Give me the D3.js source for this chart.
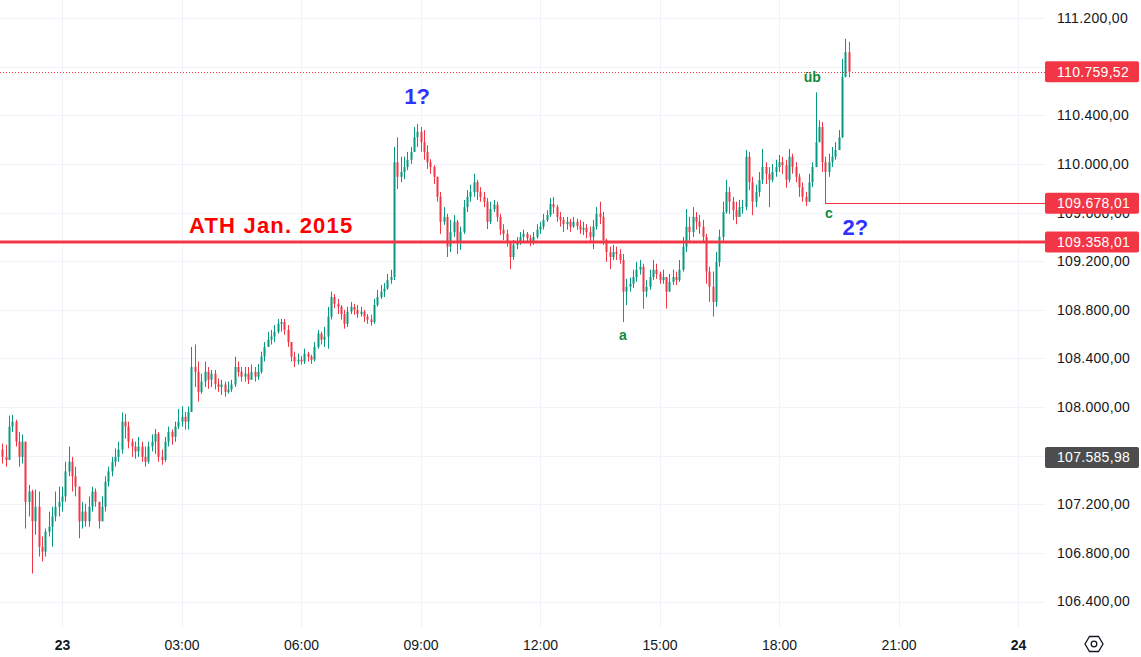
<!DOCTYPE html>
<html><head><meta charset="utf-8">
<script src="https://cdn.jsdelivr.net/npm/d3@7"></script>
<style>html,body{margin:0;padding:0;background:#fff;overflow:hidden}</style>
</head><body><svg id="c" width="1141" height="657"></svg>
<script>
// ---- data (5-minute candles, 22 May 22:30 -> 23 May 19:45 UTC) ----
const startTime = Date.UTC(2025,4,22,22,30);
const stepMinutes = 5;
const firstOpen = 107650;
const closes = [
107590,107565,107840,107880,107715,107590,107715,107220,107305,107060,
107180,106850,106810,106975,107015,107100,107180,107220,107265,107470,
107550,107430,107345,107060,107140,107060,107180,107305,107220,107060,
107180,107385,107470,107550,107590,107650,107880,107840,107715,107675,
107635,107675,107590,107550,107675,107715,107780,107590,107565,107715,
107795,107755,107840,107880,107920,107880,107960,108330,108290,108125,
108210,108290,108225,108275,108190,108165,108185,108125,108145,108185,
108330,108290,108250,108275,108225,108290,108250,108290,108415,108495,
108555,108580,108620,108685,108700,108635,108535,108415,108375,108390,
108375,108440,108415,108390,108495,108605,108555,108580,108745,108905,
108850,108825,108765,108685,108785,108825,108800,108765,108785,108745,
108720,108700,108840,108905,108950,108975,109045,109070,110015,109895,
109935,109975,110035,110100,110220,110265,110180,110100,110015,109975,
109895,109730,109525,109565,109320,109440,109525,109360,109440,109645,
109730,109770,109850,109770,109730,109690,109525,109630,109665,109565,
109460,109425,109360,109235,109335,109360,109400,109425,109390,109360,
109400,109460,109485,109540,109580,109670,109645,109565,109540,109505,
109525,109485,109525,109490,109460,109475,109440,109400,109485,109590,
109565,109375,109275,109235,109275,109260,109210,108950,108990,109015,
109070,109130,109155,108950,108990,109070,109130,109095,109045,109070,
108950,109030,109070,109045,109130,109320,109485,109440,109565,109525,
109485,109400,109115,108990,108865,109195,109400,109605,109770,109690,
109620,109565,109645,109645,110060,109850,109690,109770,109870,109975,
109920,109870,109935,109975,110015,109990,109870,110060,109975,109895,
109810,109730,109690,109850,109975,110180,110305,110015,109935,110015,
110060,110115,110220,110715,110920,110759.52];
const highs = [
107700,107690,107930,107935,107895,107795,107775,107715,107360,107320,
107320,107305,106935,107000,107140,107180,107305,107345,107345,107550,
107675,107590,107510,107345,107220,107205,107265,107345,107330,107220,
107265,107430,107510,107590,107660,107715,107955,107945,107880,107740,
107715,107755,107715,107675,107715,107775,107820,107795,107650,107755,
107840,107815,107880,107985,108005,107960,108005,108495,108515,108375,
108275,108375,108330,108305,108305,108235,108225,108210,108210,108225,
108415,108375,108330,108330,108330,108350,108330,108355,108455,108535,
108620,108635,108675,108725,108725,108725,108675,108535,108455,108440,
108420,108480,108455,108430,108535,108635,108620,108660,108825,108950,
108930,108890,108840,108800,108825,108865,108850,108840,108825,108800,
108765,108760,108890,108965,109005,109020,109095,109130,110140,110220,
110060,110060,110100,110140,110305,110330,110305,110280,110155,110040,
109990,109895,109770,109645,109590,109540,109580,109540,109485,109705,
109785,109830,109920,109870,109810,109770,109720,109690,109705,109690,
109590,109505,109460,109360,109375,109400,109440,109460,109440,109415,
109440,109505,109525,109590,109620,109720,109730,109665,109605,109565,
109565,109550,109565,109550,109540,109525,109505,109485,109540,109645,
109690,109605,109385,109320,109335,109320,109300,109260,109055,109065,
109130,109195,109210,109180,109045,109130,109210,109180,109115,109130,
109070,109095,109130,109115,109210,109400,109630,109565,109645,109605,
109580,109540,109425,109155,109115,109275,109460,109690,109870,109810,
109730,109690,109705,109705,110115,110100,109895,109830,109935,110125,
110015,109975,110000,110035,110075,110060,110035,110125,110085,110015,
109920,109850,109770,109920,110015,110590,110360,110345,110060,110085,
110140,110180,110280,110865,111030,111005];
const lows = [
107535,107510,107565,107795,107675,107510,107535,107000,107100,106630,
106950,106770,106730,106770,106935,106850,107060,107100,107140,107220,
107430,107305,107265,106920,107000,107015,107015,107140,107180,107000,
107060,107140,107345,107430,107510,107550,107615,107740,107660,107590,
107575,107590,107550,107510,107535,107635,107615,107550,107525,107550,
107675,107690,107715,107820,107840,107815,107815,107960,108165,108045,
108110,108165,108150,108165,108145,108125,108100,108085,108110,108125,
108165,108250,108210,108210,108190,108225,108210,108225,108275,108375,
108495,108515,108535,108605,108620,108595,108495,108375,108330,108350,
108350,108355,108375,108355,108375,108480,108515,108495,108480,108720,
108815,108765,108720,108645,108660,108765,108760,108735,108745,108700,
108685,108670,108685,108825,108890,108905,108965,109015,109045,109795,
109850,109875,109950,110000,110100,110140,110100,110035,109960,109920,
109835,109690,109425,109500,109235,109275,109400,109260,109295,109425,
109605,109690,109730,109705,109690,109645,109465,109505,109605,109525,
109415,109375,109320,109135,109210,109300,109335,109360,109360,109325,
109335,109385,109425,109460,109525,109565,109590,109525,109485,109440,
109460,109440,109475,109460,109425,109415,109390,109360,109300,109460,
109505,109335,109195,109135,109210,109210,109180,108700,108840,108950,
108980,109030,109090,108810,108905,108965,109045,109055,109015,109015,
108810,108950,109005,109005,109030,109115,109275,109360,109400,109460,
109425,109360,109015,108865,108745,108825,109155,109360,109590,109590,
109540,109505,109565,109590,109620,109785,109580,109645,109730,109835,
109835,109645,109850,109895,109935,109920,109805,109850,109920,109850,
109730,109690,109655,109690,109810,109975,110180,109935,109678.01,109895,
109975,110035,110140,110215,110740,110715];

const yTicks = [106400,106800,107200,107600,108000,108400,108800,109200,109600,110000,110400,110800,111200];
const xTickHours = [0,3,6,9,12,15,18,21,24];
const xTickLabels = ["23","03:00","06:00","09:00","12:00","15:00","18:00","21:00","24"];
const priceTags = [
  {label:"last", value:110759.52, color:"#f23645"},
  {label:"c", value:109678.01, color:"#f23645"},
  {label:"ath", value:109358.01, color:"#f23645"},
  {label:"prev", value:107585.98, color:"#4d4d4f"}
];
const athValue = 109358.01;
const cLevel = 109678.01;
const cTimeIndex = 248;
const lastPrice = 110759.52;
const waveLabels = [
  {text:"1?", idx:125, value:110490, kind:"major"},
  {text:"2?", idx:257, value:109420, kind:"major"},
  {text:"a", idx:187, value:108550, kind:"minor"},
  {text:"c", idx:249, value:109555, kind:"minor"},
  {text:"üb", idx:244, value:110675, kind:"minor"}
];

// ---- layout ----
const W = 1141, H = 657, plotR = 1045, plotB = 628;
const svg = d3.select("#c");
const day0 = Date.UTC(2025,4,23,0,0);
const x = d3.scaleUtc().domain([new Date(day0), new Date(day0+24*3600e3)]).range([62,1018]);
const y = d3.scaleLinear().domain([106400,111200]).range([601.5,18.2]);
const tOf = i => new Date(startTime + i*stepMinutes*60e3);
const loc = d3.formatLocale({decimal:",",thousands:".",grouping:[3],currency:["","€"]});
const fmt = loc.format(",.2f");
const FONT = "'Liberation Sans', Arial, sans-serif";

svg.append("rect").attr("width",W).attr("height",H).attr("fill","#fff");

// grid
const grid = svg.append("g").attr("stroke","#f0f3fa").attr("stroke-width",1);
yTicks.forEach(v=>{ const yy=Math.round(y(v))+0.5;
  grid.append("line").attr("x1",0).attr("x2",plotR).attr("y1",yy).attr("y2",yy);});
const xTickDates = xTickHours.map(h=>new Date(day0+h*3600e3));
xTickDates.forEach(d=>{ const xx=Math.round(x(d))+0.5;
  grid.append("line").attr("x1",xx).attr("x2",xx).attr("y1",0).attr("y2",plotB);});

// candles
const data = closes.map((c,i)=>{
  const o = i===0 ? firstOpen : closes[i-1];
  return {t:tOf(i), o, c, h:Math.max(highs[i],o,c), l:Math.min(lows[i],o,c)};
});
const cg = svg.append("g");
data.forEach(d=>{
  const xx = Math.round(x(d.t));
  const col = d.c >= d.o ? "#089981" : "#f23645";
  cg.append("line").attr("x1",xx+0.5).attr("x2",xx+0.5).attr("y1",y(d.h)).attr("y2",y(d.l))
    .attr("stroke",col).attr("stroke-width",1);
  const top = Math.min(y(d.o),y(d.c)), bh = Math.max(1,Math.abs(y(d.o)-y(d.c)));
  cg.append("rect").attr("x",xx-0.5).attr("width",2).attr("y",top).attr("height",bh).attr("fill",col);
});

// lines
svg.append("line").attr("x1",0).attr("x2",plotR).attr("y1",Math.round(y(lastPrice))+0.5).attr("y2",Math.round(y(lastPrice))+0.5)
  .attr("stroke","#f23645").attr("stroke-width",1).attr("stroke-dasharray","1,2");
svg.append("line").attr("x1",0).attr("x2",plotR).attr("y1",y(athValue)).attr("y2",y(athValue))
  .attr("stroke","#f23645").attr("stroke-width",3);
svg.append("line").attr("x1",Math.round(x(tOf(cTimeIndex)))).attr("x2",plotR)
  .attr("y1",Math.round(y(cLevel))+0.5).attr("y2",Math.round(y(cLevel))+0.5)
  .attr("stroke","#f23645").attr("stroke-width",1);

// text annotations
svg.append("text").attr("x",189).attr("y",y(athValue)-9).text("ATH Jan. 2015")
  .attr("font-family",FONT).attr("font-weight","bold").attr("font-size",22)
  .attr("letter-spacing",1.2).attr("fill","#ff0000");
waveLabels.forEach(w=>{
  const t = svg.append("text").attr("x",x(tOf(w.idx))).attr("y",y(w.value)).text(w.text)
    .attr("text-anchor","middle").attr("font-family",FONT).attr("font-weight","bold");
  if (w.kind==="minor") t.attr("font-size",14).attr("fill","#0f8a3c");
  else t.attr("font-size",22).attr("fill","#3030ff");
});

// y axis
const yAxis = d3.axisRight(y).tickValues(yTicks).tickFormat(fmt).tickSize(0).tickPadding(0);
const ya = svg.append("g").attr("transform","translate(1057,0)").call(yAxis);
ya.select(".domain").remove();
ya.selectAll("text").attr("font-family",FONT).attr("font-size",14).attr("fill","#131722").attr("letter-spacing",0.3);

// price tags
priceTags.forEach(p=>{
  const yy = y(p.value);
  svg.append("rect").attr("x",1045).attr("y",yy-10.5).attr("width",94).attr("height",21).attr("rx",2).attr("fill",p.color);
  svg.append("text").attr("x",1057).attr("y",yy).attr("dy","0.35em").text(fmt(p.value))
    .attr("font-family",FONT).attr("font-size",14).attr("fill","#fff").attr("letter-spacing",0.3);
});

// x axis
const xAxis = d3.axisBottom(x).tickValues(xTickDates).tickFormat((d,i)=>xTickLabels[i]).tickSize(0).tickPadding(0);
const xa = svg.append("g").attr("transform","translate(0,640)").call(xAxis);
xa.select(".domain").remove();
xa.selectAll("text").attr("font-family",FONT).attr("font-size",14).attr("fill","#131722")
  .attr("font-weight",(d,i)=> (i===0||i===xTickLabels.length-1) ? "bold":"normal");

// settings icon
const cx=1094, cy=644;
svg.append("path").attr("d",`M${cx-9},${cy} L${cx-4.5},${cy-7.5} L${cx+4.5},${cy-7.5} L${cx+9},${cy} L${cx+4.5},${cy+7.5} L${cx-4.5},${cy+7.5} Z`)
  .attr("fill","none").attr("stroke","#131722").attr("stroke-width",1.3);
svg.append("circle").attr("cx",cx).attr("cy",cy).attr("r",2.8).attr("fill","none").attr("stroke","#131722").attr("stroke-width",1.3);
</script></body></html>
